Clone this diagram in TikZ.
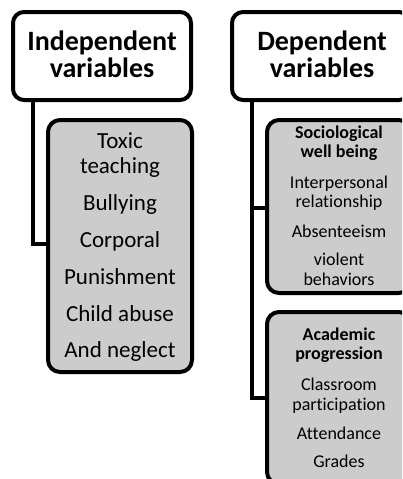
\documentclass[tikz,border=0pt]{standalone}
\usepackage{fontspec}
\setmainfont{Carlito}[Ligatures=NoCommon]
\definecolor{boxgray}{HTML}{CCCCCC}
\begin{document}
\begin{tikzpicture}[x=1pt,y=1pt,
  hdr/.style={draw=black, line width=4pt, fill=white, rounded corners=11pt, inner sep=0pt},
  body/.style={draw=black, line width=4pt, fill=boxgray, rounded corners=12pt, inner sep=0pt},
  conn/.style={draw=black, line width=4pt, line cap=rect},
  htxt/.style={anchor=base, font=\fontsize{28}{27}\selectfont\bfseries, inner sep=0pt},
  ltxt/.style={anchor=base, font=\fontsize{23}{26}\selectfont, inner sep=0pt},
  rtxt/.style={anchor=base, font=\fontsize{18}{19}\selectfont, inner sep=0pt},
  rbold/.style={rtxt, font=\fontsize{18}{19}\selectfont\bfseries}]
\useasboundingbox (0,0) rectangle (402,-479);
\clip (0,0) rectangle (402,-479);
\fill[white] (0,0) rectangle (402,-479);
% boxes
\node[hdr, minimum width=178, minimum height=88] (ih) at (102,-56) {};
\node[body, minimum width=144, minimum height=252] (ib) at (120,-246) {};
\node[hdr, minimum width=178, minimum height=88] (dh) at (321,-56) {};
\node[body, minimum width=144, minimum height=173] (sb) at (339,-206.5) {};
\node[body, minimum width=144, minimum height=172] (ab) at (339,-398) {};
% connectors
\coordinate (ic) at (33,-100);
\coordinate (dc) at (252,-100);
\draw[conn] (ic) |- (ib.west |- 0,-244);
\draw[conn] (dc) |- (sb.west |- 0,-208);
\draw[conn] (dc) |- (ab.west |- 0,-398);
% header texts
\node[htxt] (ih1) at (102,-50) {Independent};
\node[htxt] (ih2) at (102,-77) {variables};
\node[htxt] (dh1) at (322,-50) {Dependent};
\node[htxt] (dh2) at (322,-77) {variables};
% left body
\node[ltxt] (l1) at (120,-148) {Toxic};
\node[ltxt] (l2) at (120,-173) {teaching};
\node[ltxt] (l3) at (120,-210) {Bullying};
\node[ltxt] (l4) at (120,-247) {Corporal};
\node[ltxt] (l5) at (120,-284) {Punishment};
\node[ltxt] (l6) at (120,-321) {Child abuse};
\node[ltxt] (l7) at (120,-357) {And neglect};
% sociological
\node[rbold] (s1) at (339,-138) {Sociological};
\node[rbold] (s2) at (339,-157) {well being};
\node[rtxt] (s3) at (339,-188) {Interpersonal};
\node[rtxt] (s4) at (339,-207) {relationship};
\node[rtxt] (s5) at (339,-237) {Absenteeism};
\node[rtxt] (s6) at (339,-265) {violent};
\node[rtxt] (s7) at (339,-285) {behaviors};
% academic
\node[rbold] (a1) at (339,-340) {Academic};
\node[rbold] (a2) at (339,-359) {progression};
\node[rtxt] (a3) at (339,-390) {Classroom};
\node[rtxt] (a4) at (339,-410) {participation};
\node[rtxt] (a5) at (339,-439) {Attendance};
\node[rtxt] (a6) at (339,-467) {Grades};
\end{tikzpicture}
\end{document}
